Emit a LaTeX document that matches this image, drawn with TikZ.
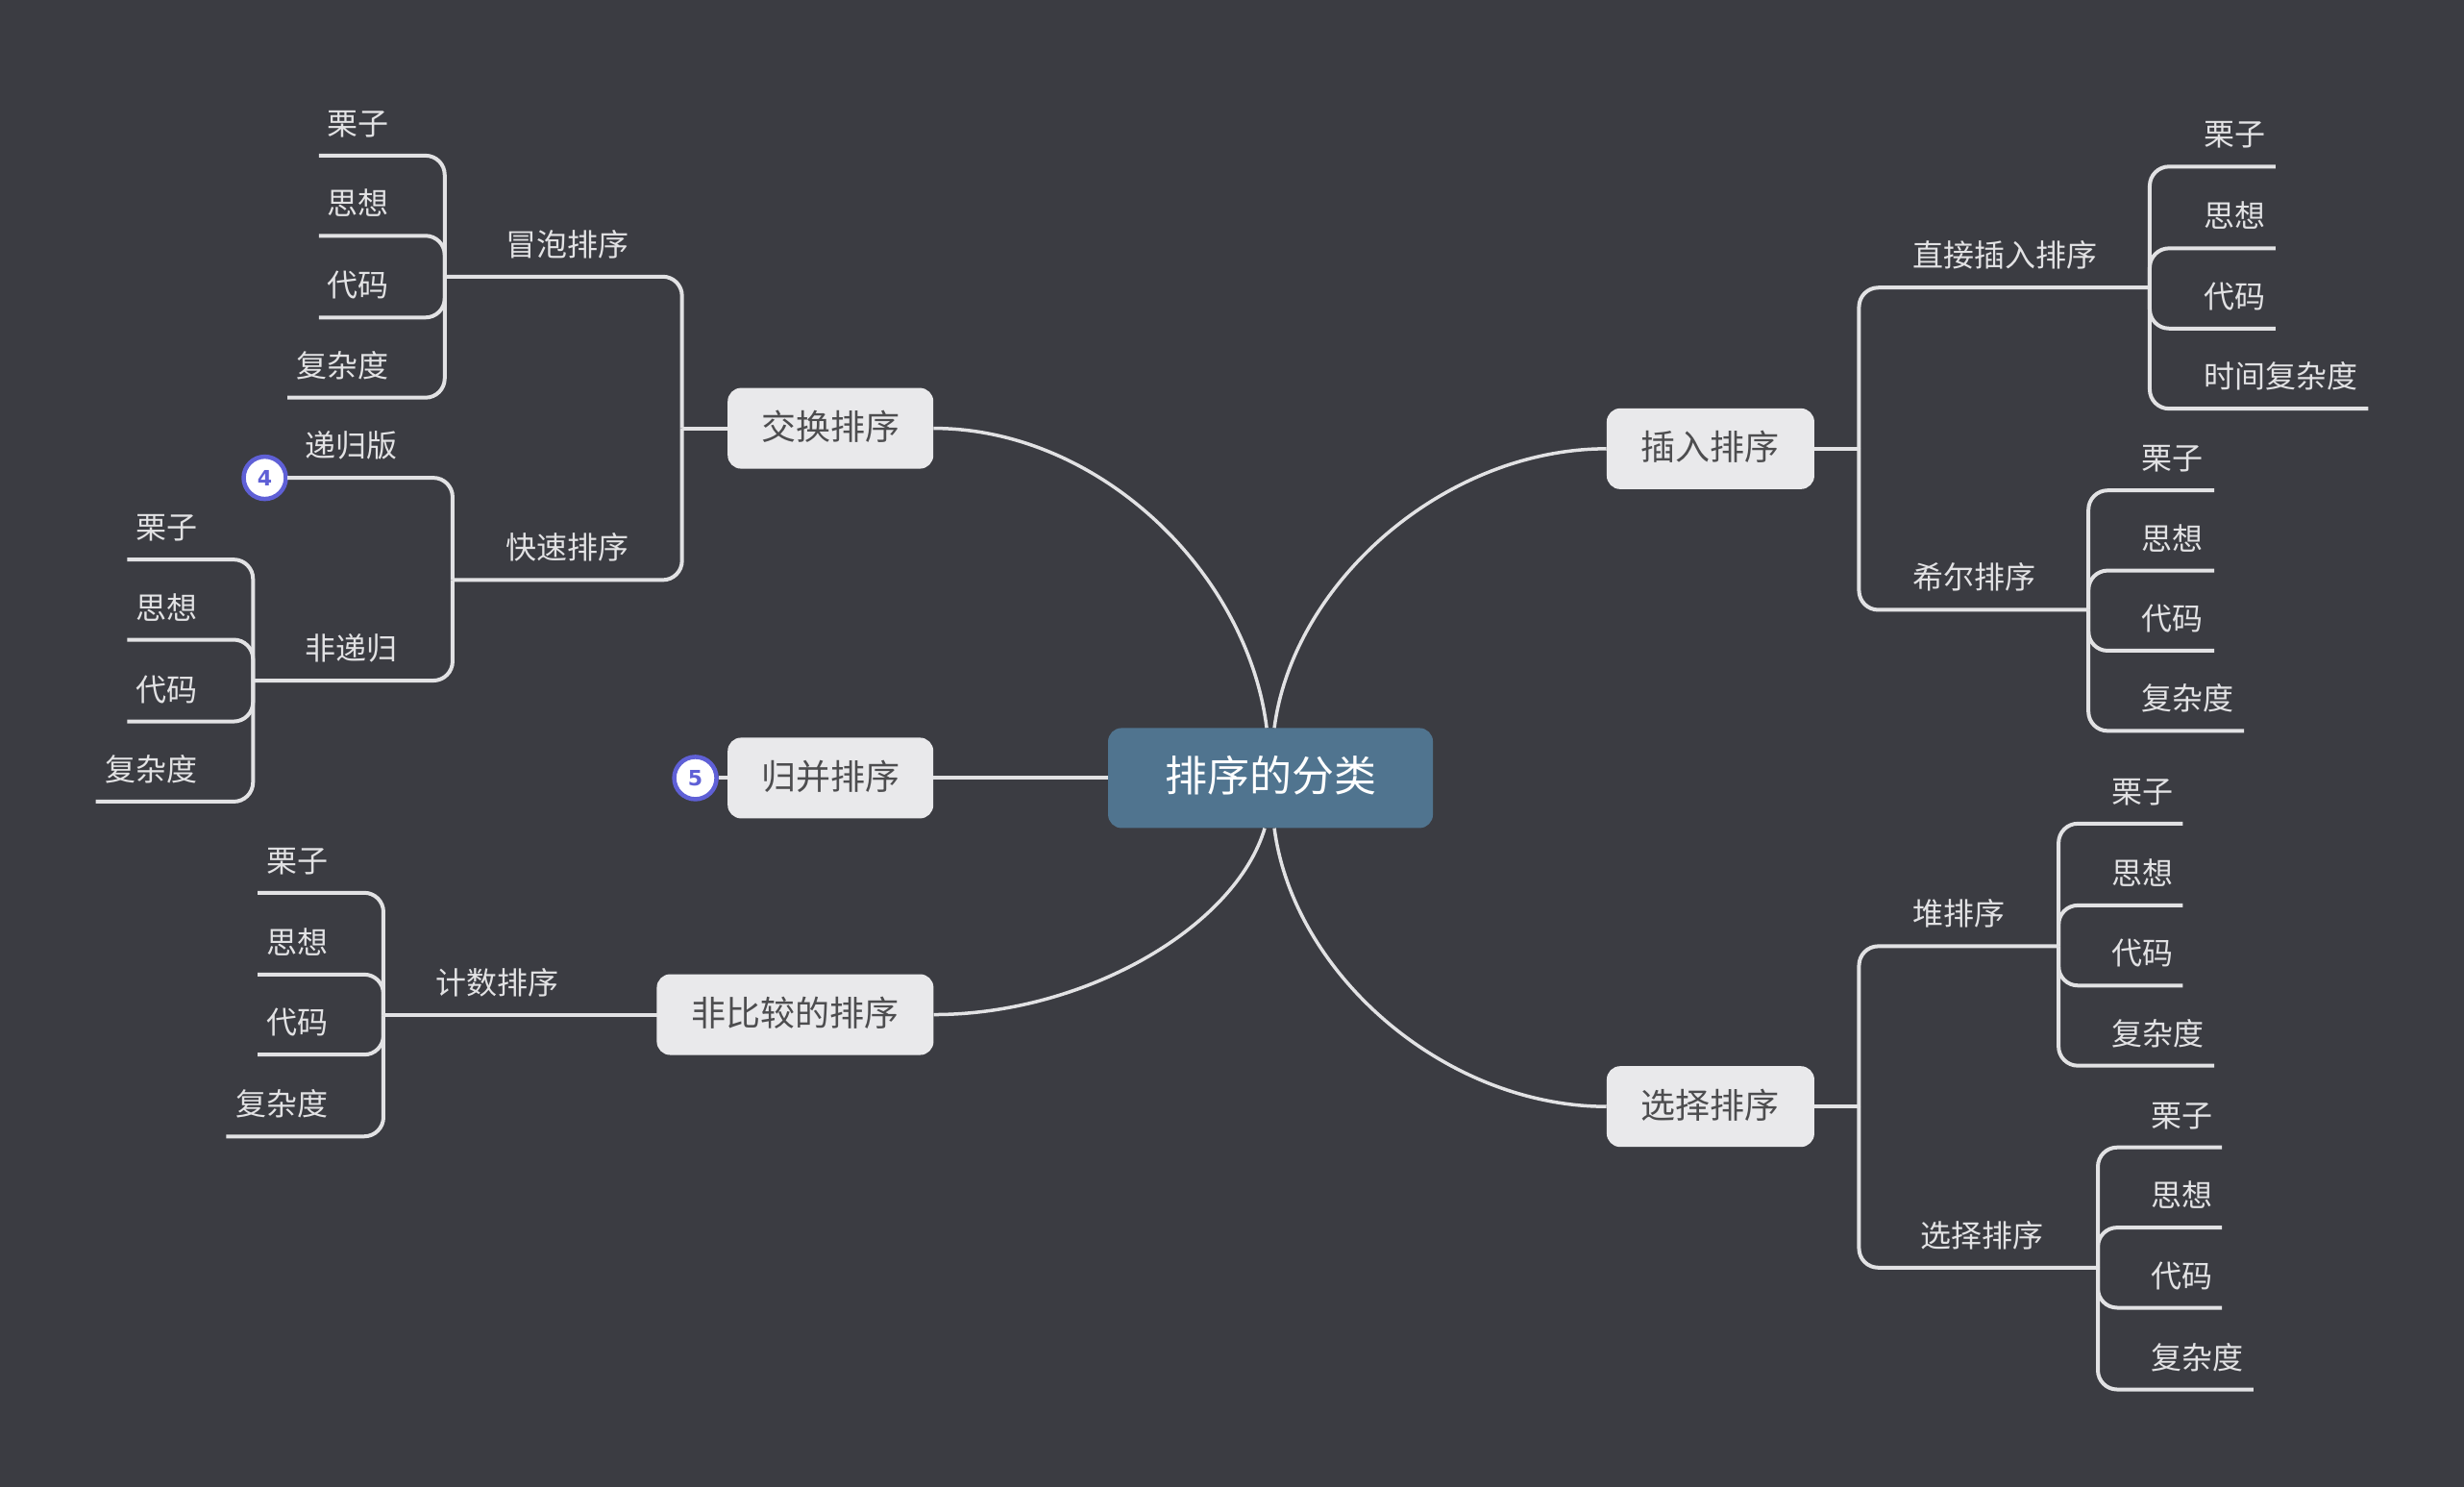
\documentclass[tikz,border=0pt]{standalone}
\usepackage{fontspec}
\setmainfont{Noto Sans CJK SC}
\newfontfamily\badgefont{DejaVu Sans}
\definecolor{bgc}{HTML}{3B3C42}
\definecolor{centerc}{HTML}{50748F}
\definecolor{boxc}{HTML}{E9E9EB}
\definecolor{linec}{HTML}{E2E2E4}
\definecolor{boxtext}{HTML}{4D4D4F}
\definecolor{badgec}{HTML}{5F60D6}
\tikzset{
  leafnode/.style={anchor=south west,inner sep=0pt,outer sep=0pt,minimum height=59pt,text height=24pt,text depth=8pt,text=linec,font=\fontsize{32}{32}\selectfont},
  topicbox/.style={rectangle,rounded corners=14pt,fill=boxc,text=boxtext,inner sep=0pt,text height=32pt,text depth=8pt,font=\fontsize{36}{36}\selectfont},
  centerbox/.style={rectangle,rounded corners=14pt,fill=centerc,text=white,inner sep=0pt,text height=35.4pt,text depth=8pt,font=\fontsize{44}{44}\selectfont},
  badge/.style={circle,draw=badgec,line width=4.5pt,fill=white,text=badgec,inner sep=0pt,minimum size=44pt,font=\badgefont\bfseries\fontsize{22}{22}\selectfont},
  link/.style={draw=linec,line width=4pt,rounded corners=20pt},
  curve/.style={draw=linec,line width=3.5pt}
}
\newcommand{\leafat}[6]{%
  \pgfmathsetlengthmacro{\lfw}{(#3-#2)*1.6352}%
  \pgfmathsetlengthmacro{\lfi}{(#5-#2)*1.6352}%
  \node[leafnode] (#1) at (#2,#4) {\makebox[\lfw][l]{\hspace*{\lfi}#6}};}
\begin{document}
\begin{tikzpicture}[x=1.6352pt,y=-1.6352pt]
\fill[bgc] (0,0) rectangle (1568,946);
\useasboundingbox (0,0) rectangle (1568,946);
% topics
\node[centerbox,minimum width=338pt,minimum height=104pt] (root) at (808.5,495) {排序的分类};
\node[topicbox,minimum width=214pt,minimum height=84pt] (jh) at (528.5,272.5) {交换排序};
\node[topicbox,minimum width=214pt,minimum height=84pt] (gb) at (528.5,495) {归并排序};
\node[topicbox,minimum width=288pt,minimum height=84pt] (fb) at (506,645.5) {非比较的排序};
\node[topicbox,minimum width=216pt,minimum height=84pt] (cr) at (1088.5,285.5) {插入排序};
\node[topicbox,minimum width=216pt,minimum height=84pt] (xz) at (1088.5,704) {选择排序};
% junction coordinates
\coordinate (tjh) at (434,272.5);
\coordinate (tcr) at (1183,285.5);
\coordinate (txz) at (1183,704);
% 交换排序 branch
\leafat{mp}{283}{434}{176}{322}{冒泡排序}
\leafat{ks}{288}{434}{369}{322}{快速排序}
\leafat{mp1}{203}{282}{99}{208}{栗子}
\leafat{mp2}{203}{282}{150}{208}{思想}
\leafat{mp3}{203}{282}{202}{208}{代码}
\leafat{mp4}{183}{282}{253}{188.5}{复杂度}
\leafat{dg}{183}{288}{304}{194}{递归版}
\leafat{fd}{161}{288}{433}{194}{非递归}
\leafat{fd1}{81}{160}{356}{86.5}{栗子}
\leafat{fd2}{81}{160}{407}{86.5}{思想}
\leafat{fd3}{81}{160}{459}{86.5}{代码}
\leafat{fd4}{61}{160}{510}{67}{复杂度}
% 计数排序
\leafat{js}{244}{418}{646}{277.5}{计数排序}
\leafat{js1}{164}{243}{568}{169.5}{栗子}
\leafat{js2}{164}{243}{620}{169.5}{思想}
\leafat{js3}{164}{243}{671}{169.5}{代码}
\leafat{js4}{144}{243}{723}{150}{复杂度}
% 插入排序
\leafat{zj}{1183}{1368}{183}{1217}{直接插入排序}
\leafat{zj1}{1369}{1448}{106}{1402.5}{栗子}
\leafat{zj2}{1369}{1448}{158}{1402.5}{思想}
\leafat{zj3}{1369}{1448}{209}{1402.5}{代码}
\leafat{zj4}{1369}{1507}{260}{1402.5}{时间复杂度}
\leafat{xe}{1183}{1329}{388}{1217}{希尔排序}
\leafat{xe1}{1330}{1409}{312}{1363}{栗子}
\leafat{xe2}{1330}{1409}{363}{1363}{思想}
\leafat{xe3}{1330}{1409}{414}{1363}{代码}
\leafat{xe4}{1330}{1428}{465}{1363}{复杂度}
% 选择排序
\leafat{d}{1183}{1310}{602}{1217}{堆排序}
\leafat{d1}{1311}{1389}{524}{1344}{栗子}
\leafat{d2}{1311}{1389}{576}{1344}{思想}
\leafat{d3}{1311}{1389}{627}{1344}{代码}
\leafat{d4}{1311}{1409}{678}{1344}{复杂度}
\leafat{xs}{1183}{1335}{806.5}{1222}{选择排序}
\leafat{xs1}{1336}{1414}{730}{1369}{栗子}
\leafat{xs2}{1336}{1414}{781}{1369}{思想}
\leafat{xs3}{1336}{1414}{832}{1369}{代码}
\leafat{xs4}{1336}{1434}{884}{1369}{复杂度}
% badges
\node[badge] (b4) at (168.5,304) {4};
\node[badge] (b5) at (442.5,495) {5};
% main curves
\draw[curve] ([xshift=-4pt]root.north) .. controls (794,365) and (700,272.5) .. (jh.east);
\draw[curve] ([xshift=4pt]root.north) .. controls (823,370) and (920,285.5) .. (cr.west);
\draw[curve] ([xshift=-6pt]root.south) .. controls (786,590) and (690,645.5) .. (fb.east);
\draw[curve] ([xshift=4pt]root.south) .. controls (823,620) and (920,704) .. (xz.west);
\draw[curve,line width=4pt] (root.west) -- (gb.east);
\draw[curve,line width=4pt] (gb.west) -- (b5.east);
% 交换
\draw[link] (jh.west) -- (tjh);
\draw[link] (tjh) |- (mp.south west);
\draw[link] (tjh) |- (ks.south west);
\foreach \n in {mp1,mp2,mp3,mp4} \draw[link] (mp.south west) |- (\n.south west);
\draw[link] (ks.south west) |- (dg.south west);
\draw[link] (ks.south west) |- (fd.south west);
\foreach \n in {fd1,fd2,fd3,fd4} \draw[link] (fd.south west) |- (\n.south west);
% 非比较
\draw[link] (fb.west) -- (js.south east);
\draw[link] (js.south east) -- (js.south west);
\foreach \n in {js1,js2,js3,js4} \draw[link] (js.south west) |- (\n.south west);
% 插入
\draw[link] (cr.east) -- (tcr);
\draw[link] (tcr) |- (zj.south east);
\draw[link] (tcr) |- (xe.south east);
\foreach \n in {zj1,zj2,zj3,zj4} \draw[link] (zj.south east) |- (\n.south east);
\foreach \n in {xe1,xe2,xe3,xe4} \draw[link] (xe.south east) |- (\n.south east);
% 选择
\draw[link] (xz.east) -- (txz);
\draw[link] (txz) |- (d.south east);
\draw[link] (txz) |- (xs.south east);
\foreach \n in {d1,d2,d3,d4} \draw[link] (d.south east) |- (\n.south east);
\foreach \n in {xs1,xs2,xs3,xs4} \draw[link] (xs.south east) |- (\n.south east);
\end{tikzpicture}
\end{document}
